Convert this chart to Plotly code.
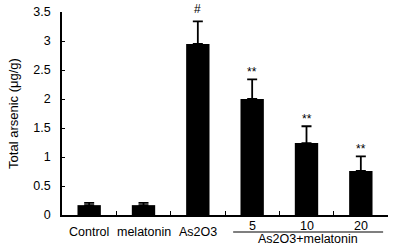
import plotly.graph_objects as go

categories = ["Control", "melatonin", "As2O3", "5", "10", "20"]
values = [0.17, 0.17, 2.95, 2.0, 1.24, 0.76]
errors = [0.04, 0.04, 0.39, 0.34, 0.29, 0.25]
marks = ["", "", "#", "**", "**", "**"]
group_label = "As2O3+melatonin"
grouped = [False, False, False, True, True, True]
y_ticks = [0, 0.5, 1, 1.5, 2, 2.5, 3, 3.5]
y_tick_text = ["0", "0.5", "1", "1.5", "2", "2.5", "3", "3.5"]

FONT = "Arial, Liberation Sans, sans-serif"

fig = go.Figure()
fig.add_trace(go.Bar(
    x=categories, y=values, width=0.43,
    marker=dict(color="black", line=dict(width=0)),
    error_y=dict(type="data", array=errors, arrayminus=[0]*len(errors),
                 symmetric=False, color="black", thickness=1.8, width=5),
    hoverinfo="skip",
))

for i, (v, e, m) in enumerate(zip(values, errors, marks)):
    if m:
        fig.add_annotation(x=i, y=v + e, text=m, showarrow=False,
                           yanchor="bottom", yshift=3 if m == "#" else -2,
                           font=dict(family=FONT, size=12, color="black"))

# category labels (grouped ones sit a little higher, above the bracket line)
for i, (c, g) in enumerate(zip(categories, grouped)):
    fig.add_annotation(x=i, xref="x", yref="paper",
                       y=-(226 - 215) / 203 if g else -(232 - 215) / 203,
                       text=c, showarrow=False, yanchor="middle",
                       font=dict(family=FONT, size=12.5, color="black"))

fig.add_shape(type="line", xref="x", yref="paper", x0=2.65, x1=5.41,
              y0=-(232 - 215) / 203, y1=-(232 - 215) / 203,
              line=dict(color="black", width=1.2))
fig.add_annotation(xref="x", yref="paper", x=4.03, y=-(239.5 - 215) / 203, text=group_label,
                   showarrow=False, yanchor="middle",
                   font=dict(family=FONT, size=12.5, color="black"))

fig.update_layout(
    width=400, height=250,
    margin=dict(l=62, r=12, t=12, b=35, autoexpand=False),
    paper_bgcolor="white", plot_bgcolor="white",
    showlegend=False,
    font=dict(family=FONT, size=12, color="black"),
)
fig.update_xaxes(
    type="category", range=[-0.5, 5.5],
    showline=True, linecolor="black", linewidth=1.5,
    ticks="inside", tickson="boundaries", ticklen=4, tickcolor="black", tickwidth=1.2,
    showgrid=False, zeroline=False, showticklabels=False, automargin=False,
)
fig.update_yaxes(
    range=[0, 3.5], tickvals=y_ticks, ticktext=y_tick_text,
    showline=True, linecolor="black", linewidth=1.5,
    ticks="inside", ticklen=3, tickcolor="black", tickwidth=1.2,
    showgrid=False, zeroline=False, automargin=False,
    tickfont=dict(size=12.5), ticklabelstandoff=7,
    title=dict(text="Total arsenic (μg/g)", font=dict(size=13), standoff=12),
)

fig.write_html("out.html", post_script="document.body.style.margin='0';",
               config={"displayModeBar": False})
